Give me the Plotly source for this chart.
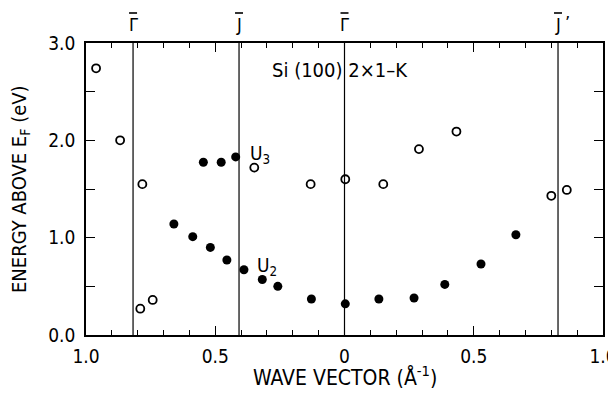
import plotly.graph_objects as go

# Open circles
open_x = [-0.961, -0.868, -0.782, -0.790, -0.742, -0.349, -0.131, 0.003, 0.150, 0.288, 0.433, 0.800, 0.860]
open_y = [2.74, 2.00, 1.55, 0.27, 0.36, 1.72, 1.55, 1.60, 1.55, 1.91, 2.09, 1.43, 1.49]

# Filled circles: U3 branch
u3_x = [-0.546, -0.477, -0.421]
u3_y = [1.775, 1.775, 1.83]

# Filled circles: U2 branch
u2_x = [-0.660, -0.587, -0.519, -0.455, -0.389, -0.318, -0.258, -0.128, 0.003, 0.133, 0.269, 0.388, 0.528, 0.663]
u2_y = [1.14, 1.01, 0.90, 0.77, 0.67, 0.57, 0.50, 0.37, 0.32, 0.37, 0.38, 0.52, 0.73, 1.03]

# Symmetry points (letters drawn with an overbar)
sym_x = [-0.818, -0.408, 0.0, 0.826]
sym_labels = ["\u0393", "J", "\u0393", "J"]
sym_primes = ["", "", "", "\u2019"]

xtick_vals = [-1.0, -0.5, 0.0, 0.5, 1.0]
xtick_text = ["1.0", "0.5", "0", "0.5", "1.0"]
ytick_vals = [0.0, 1.0, 2.0, 3.0]
ytick_text = ["0.0", "1.0", "2.0", "3.0"]

FONT = "DejaVu Sans Condensed, Liberation Sans Narrow, Arial, sans-serif"

fig = go.Figure()
fig.add_trace(go.Scatter(x=open_x, y=open_y, mode="markers",
                         marker=dict(symbol="circle-open", size=8, color="black", line=dict(width=1.8))))
fig.add_trace(go.Scatter(x=u3_x + u2_x, y=u3_y + u2_y, mode="markers",
                         marker=dict(symbol="circle", size=9, color="black")))

for sx, lab, pr in zip(sym_x, sym_labels, sym_primes):
    fig.add_shape(type="line", x0=sx, x1=sx, y0=0, y1=1, xref="x", yref="paper",
                  line=dict(color="black", width=1.2))
    fig.add_annotation(x=sx, y=1.0, yref="paper", yshift=19, text=lab, showarrow=False,
                       xanchor="center", yanchor="middle",
                       font=dict(size=18, color="black", family=FONT))
    if pr:
        fig.add_annotation(x=sx, y=1.0, yref="paper", yshift=21, xshift=5, text=pr, showarrow=False,
                           xanchor="left", yanchor="middle",
                           font=dict(size=18, color="black", family=FONT))
    fig.add_shape(type="line", xref="x", yref="paper", xsizemode="pixel", ysizemode="pixel",
                  xanchor=sx, yanchor=1.0, x0=-4, x1=4, y0=30, y1=30,
                  line=dict(color="black", width=1.6))

fig.add_annotation(x=-0.29, y=2.72, text="Si (100) 2\u00d71\u2013K", showarrow=False,
                   xanchor="left", font=dict(size=20, color="black", family=FONT))
fig.add_annotation(x=-0.375, y=1.85, text="U<sub>3</sub>", showarrow=False, xanchor="left",
                   font=dict(size=19, color="black", family=FONT))
fig.add_annotation(x=-0.345, y=0.70, text="U<sub>2</sub>", showarrow=False, xanchor="left",
                   font=dict(size=19, color="black", family=FONT))

# Axis titles
fig.add_annotation(x=0.5, y=0, xref="paper", yref="paper", yshift=-41, showarrow=False,
                   text="WAVE VECTOR (\u00c5<sup>-1</sup>)", xanchor="center", yanchor="middle",
                   font=dict(size=21, family=FONT, color="black"))
fig.add_annotation(x=0, y=0.5, xref="paper", yref="paper", xshift=-66, showarrow=False,
                   text="ENERGY ABOVE E<sub>F</sub> (eV)", textangle=-90, xanchor="center", yanchor="middle",
                   font=dict(size=20, family=FONT, color="black"))

fig.update_xaxes(range=[-1.0, 1.0], tickvals=xtick_vals, ticktext=xtick_text,
                 ticks="inside", ticklen=9, tickwidth=1.2, tickcolor="black",
                 minor=dict(dtick=0.1, ticks="inside", ticklen=5, tickwidth=1.2, tickcolor="black"),
                 showline=True, linecolor="black", linewidth=1.5, mirror="ticks",
                 showgrid=False, zeroline=False, automargin=False, ticklabelstandoff=3,
                 ticklabeloverflow="allow",
                 tickfont=dict(size=19, family=FONT, color="black"))
fig.update_yaxes(range=[0.0, 3.0], tickvals=ytick_vals, ticktext=ytick_text,
                 ticks="inside", ticklen=9, tickwidth=1.2, tickcolor="black",
                 minor=dict(dtick=0.5, ticks="inside", ticklen=9, tickwidth=1.2, tickcolor="black"),
                 showline=True, linecolor="black", linewidth=1.5, mirror="ticks",
                 showgrid=False, zeroline=False, automargin=False, ticklabelstandoff=5,
                 ticklabeloverflow="allow",
                 tickfont=dict(size=19, family=FONT, color="black"))

# The page adds an 8 px body margin; the figure is sized so no scrollbar appears and
# margins are set so the plot area lands at 86..603 x 43..335 in the window.
fig.update_layout(width=608, height=380, margin=dict(l=78, r=13, t=35, b=53),
                  paper_bgcolor="white", plot_bgcolor="white", showlegend=False,
                  font=dict(family=FONT, color="black"))

fig.write_html("out.html")
